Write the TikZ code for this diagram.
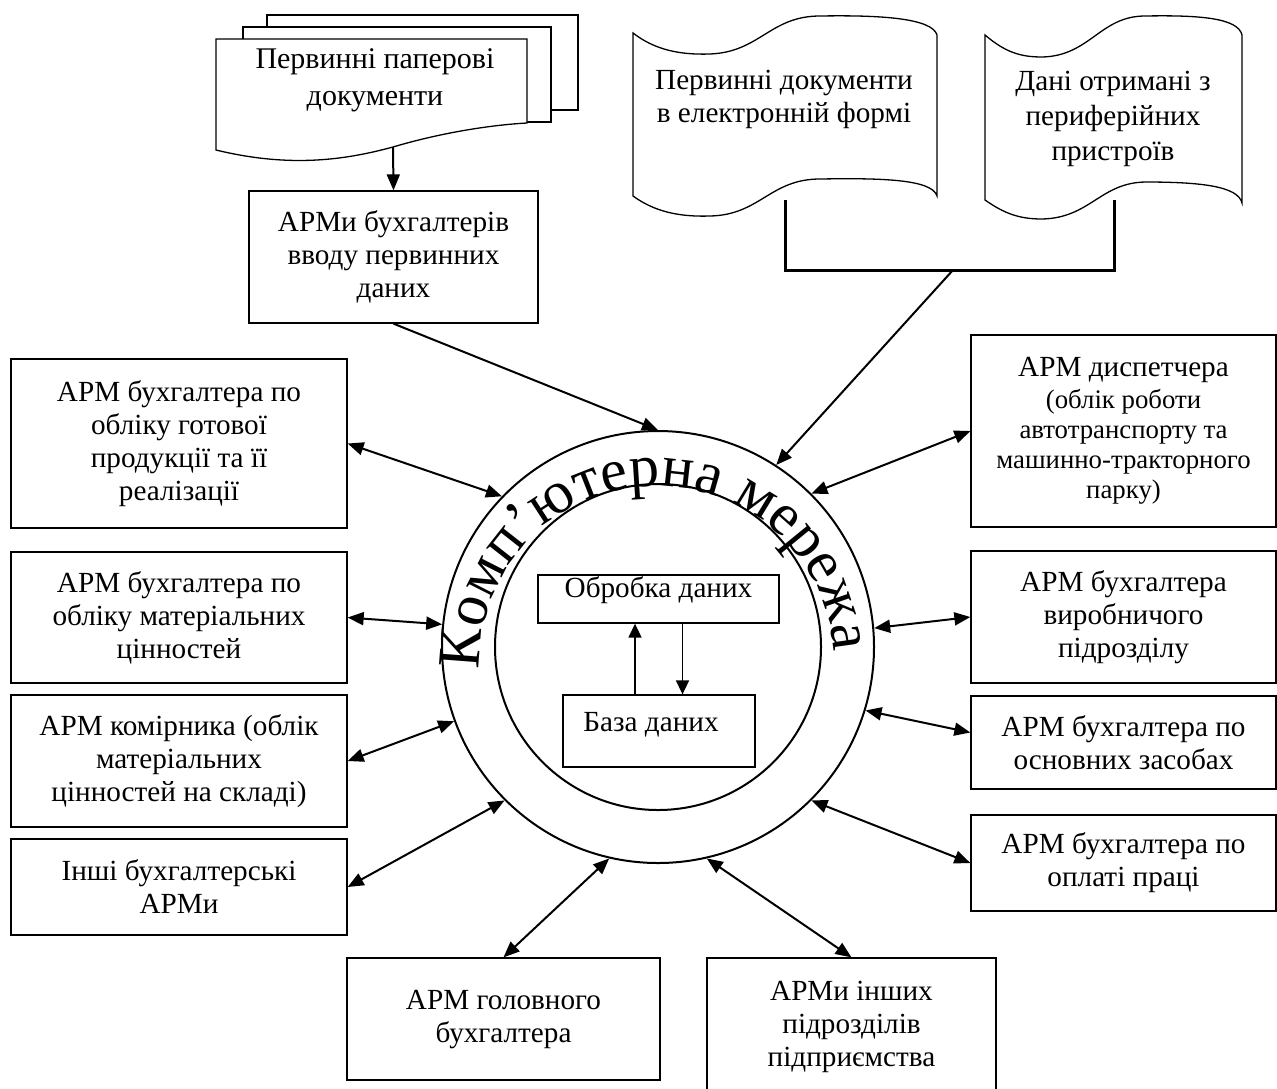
\documentclass[tikz,border=0pt]{standalone}
\usepackage{fontspec}
\setmainfont{Liberation Serif}
\usetikzlibrary{arrows.meta,decorations.text,calc}
\newcommand\boxf{\fontsize{14.6}{16.5}\selectfont}
\newcommand\boxs{\fontsize{13.4}{15}\selectfont}
\newcommand\docf{\fontsize{15}{18.5}\selectfont}
\newcommand\docb{\fontsize{14.6}{17.5}\selectfont}
\newcommand\circf{\fontsize{30}{30}\selectfont}
\begin{document}
\begin{tikzpicture}[x=0.5pt,y=-0.5pt,
  bx/.style={draw, line width=0.65pt, inner sep=0pt, align=center, font=\boxf},
  arr/.style={line width=1pt, -{Triangle[length=8pt,width=6.5pt]}},
  dbl/.style={line width=1pt, {Triangle[length=8pt,width=6.5pt]}-{Triangle[length=8pt,width=6.5pt]}},
  arrin/.style={line width=0.75pt, -{Triangle[length=7pt,width=6.5pt]}},
  ring/.style={circle, draw, line width=1pt, inner sep=0pt},
  doc/.style={draw, fill=white, line width=0.65pt},
  txt/.style={font=\boxf, align=center, inner sep=0pt}]
\useasboundingbox (0,0) rectangle (1277,1088);

% stacked paper documents
\draw[doc] (267,15) rectangle (578,110);
\draw[doc] (243,27) rectangle (551,122);
\draw[doc] (216,39) -- (527,39) -- (527,123) .. controls (490,125) and (440,133) .. (393,147)
  .. controls (345,160) and (290,168) .. (216,150) -- cycle;
\coordinate (pd) at (393,147);
\node[font=\docf, align=center, inner sep=0pt] (PT) at (375,80) {Первинні паперові\\документи};

% bracket joining the two electronic documents
\coordinate (ba) at (785,200);
\coordinate (bb) at (1114,200);
\coordinate (brk) at (953,270);
\draw[line width=1.5pt] (ba) |- (brk) -| (bb);

% punched-tape documents
\draw[doc] (633,33) .. controls (655,50) and (680,55) .. (710,54) .. controls (760,52) and (770,16) .. (820,16)
  .. controls (880,15) and (932,18) .. (937,35) -- (937,196) .. controls (932,179) and (880,178) .. (820,179)
  .. controls (770,179) and (760,215) .. (710,216) .. controls (680,217) and (655,212) .. (633,196) -- cycle;
\node[txt] (DA) at (784,99) {Первинні документи\\в електронній формі};
\draw[doc] (985,35) .. controls (1005,52) and (1020,57) .. (1042,57) .. controls (1090,56) and (1100,16) .. (1145,16)
  .. controls (1200,15) and (1238,18) .. (1242,35) -- (1242,203) .. controls (1238,186) and (1200,182) .. (1145,182)
  .. controls (1100,183) and (1090,218) .. (1042,219) .. controls (1020,219) and (1005,214) .. (985,200) -- cycle;
\node[txt, font=\docb] (DB) at (1113,119) {Дані отримані з\\периферійних\\пристроїв};

% boxes
\node[bx, minimum width=144.5pt, minimum height=66pt] (T) at (393.5,257) {АРМи бухгалтерів\\вводу первинних\\даних};
\node[bx, minimum width=168pt, minimum height=84.5pt] (L1) at (179,443.5) {АРМ бухгалтера по\\обліку готової\\продукції та її\\реалізації};
\node[bx, minimum width=168pt, minimum height=65.5pt] (L2) at (179,617.5) {АРМ бухгалтера по\\обліку матеріальних\\цінностей};
\node[bx, minimum width=168pt, minimum height=66pt] (L3) at (179,761) {АРМ комірника (облік\\матеріальних\\цінностей на складі)};
\node[bx, minimum width=168pt, minimum height=48pt] (L4) at (179,887) {Інші бухгалтерські\\АРМи};
\node[bx, font=\boxs, minimum width=152.5pt, minimum height=96pt] (R1) at (1123.5,431) {{\boxf АРМ диспетчера}\\[1pt](облік роботи\\автотранспорту та\\машинно-тракторного\\парку)};
\node[bx, minimum width=152.5pt, minimum height=66pt] (R2) at (1123.5,617) {АРМ бухгалтера\\виробничого\\підрозділу};
\node[bx, minimum width=152.5pt, minimum height=46.5pt] (R3) at (1123.5,742.5) {АРМ бухгалтера по\\основних засобах};
\node[bx, minimum width=152.5pt, minimum height=48pt] (R4) at (1123.5,863) {АРМ бухгалтера по\\оплаті праці};
\node[bx, minimum width=156.5pt, minimum height=61pt] (B1) at (503.5,1019) {АРМ головного\\бухгалтера};
\node[bx, minimum width=144.5pt, minimum height=68.5pt] (B2) at (851.5,1026.5) {АРМи інших\\підрозділів\\підприємства};

% network rings
\node[ring, minimum size=216pt] (C) at (658,647) {};
\node[ring, minimum size=163pt] (Ci) at (658,647) {};

% ring lettering
\path[decorate, decoration={text along path, text={|\circf|Комп’ютерна мережа}, text align={fit to path}}]
  (657,663) ++(-182:177) arc[start angle=-182, end angle=-4, radius=177];

% inner boxes
\node[draw, line width=0.65pt, minimum width=120.5pt, minimum height=24pt, inner sep=0pt] (Ob) at (658.5,599) {};
\node[txt] (ObT) at (658.5,590) {Обробка даних};
\node[draw, line width=0.65pt, minimum width=96pt, minimum height=36pt, inner sep=0pt] (Bz) at (659,731) {};
\node[txt] (BzT) at (651,725) {База даних};
\draw[arrin] ([xshift=-12pt]Bz.north) -- ([xshift=-12pt]Bz.north |- Ob.south);
\draw[arrin] ([xshift=12pt]Ob.south) -- ([xshift=12pt]Ob.south |- Bz.north);

% connectors
\draw[arr] (pd) -- (T.north);
\draw[arr] (T.south) -- (C.90);
\draw[arr] (brk) -- (C.57);
\draw[dbl] (L1.east) -- (C.136);
\draw[dbl] (R1.west) -- (C.45);
\draw[dbl] (L2.east) -- (C.174);
\draw[dbl] (R2.west) -- (C.5);
\draw[dbl] (L3.east) -- (C.200);
\draw[dbl] ([yshift=5pt]R3.west) -- (C.-17);
\draw[dbl] (L4.east) -- (C.225);
\draw[dbl] (R4.west) -- (C.-45);
\draw[dbl] (B1.north) -- (C.257);
\draw[dbl] (B2.north) -- (C.283);
\end{tikzpicture}
\end{document}
